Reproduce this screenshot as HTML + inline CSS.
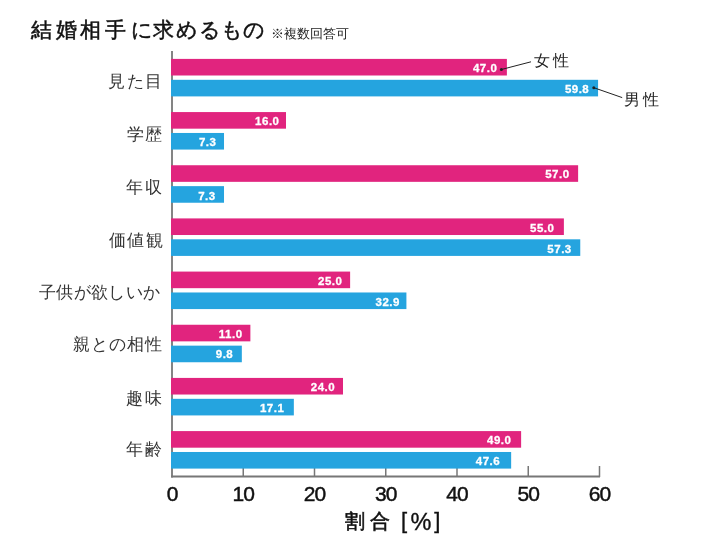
<!DOCTYPE html>
<html><head><meta charset="utf-8">
<style>
html,body{margin:0;padding:0;background:#fff;}
body{width:724px;height:553px;overflow:hidden;font-family:"Liberation Sans",sans-serif;}
svg{display:block;will-change:transform;}
text{font-family:"Liberation Sans",sans-serif;}
.v{fill:#fff;stroke:#fff;stroke-width:0.3px;font-size:11.5px;letter-spacing:0.5px;font-weight:bold;text-anchor:end;}
.c{fill:#333;font-size:16.5px;}
.t{fill:#111;stroke:#111;stroke-width:0.45px;font-size:21px;letter-spacing:-1px;text-anchor:middle;}
.l{fill:#222;font-size:16px;}
.ti{fill:#111;stroke:#111;stroke-width:0.5px;font-size:20.5px;}
.sub{fill:#222;font-size:13px;}
.xt{fill:#111;stroke:#111;stroke-width:0.6px;font-size:19.5px;}
.br{fill:#111;stroke:#111;stroke-width:0.35px;font-size:22px;}
</style></head><body>
<svg width="724" height="553" viewBox="0 0 724 553">
<line x1="172" y1="51" x2="172" y2="477.5" stroke="#777" stroke-width="1.8"/>
<line x1="243.25" y1="466" x2="243.25" y2="477" stroke="#777" stroke-width="1.5"/>
<line x1="314.50" y1="466" x2="314.50" y2="477" stroke="#777" stroke-width="1.5"/>
<line x1="385.75" y1="466" x2="385.75" y2="477" stroke="#777" stroke-width="1.5"/>
<line x1="457.00" y1="466" x2="457.00" y2="477" stroke="#777" stroke-width="1.5"/>
<line x1="528.25" y1="466" x2="528.25" y2="477" stroke="#777" stroke-width="1.5"/>
<line x1="599.50" y1="466" x2="599.50" y2="477" stroke="#777" stroke-width="1.5"/>
<rect x="171.00" y="58.90" width="335.88" height="16.6" fill="#E1247E"/>
<text class="v" x="497.32" y="72.24">47.0</text>
<rect x="171.00" y="79.80" width="427.07" height="16.6" fill="#25A4DF"/>
<text class="v" x="589.28" y="92.96">59.8</text>
<text class="c" x="108.30" y="87.00" style="letter-spacing:1.50px">見た目</text>
<rect x="171.00" y="112.07" width="115.00" height="16.6" fill="#E1247E"/>
<text class="v" x="279.50" y="125.21">16.0</text>
<rect x="171.00" y="132.97" width="53.01" height="16.6" fill="#25A4DF"/>
<text class="v" x="216.39" y="145.93">7.3</text>
<text class="c" x="127.20" y="140.42" style="letter-spacing:0.80px">学歴</text>
<rect x="171.00" y="165.24" width="407.12" height="16.6" fill="#E1247E"/>
<text class="v" x="569.56" y="178.17">57.0</text>
<rect x="171.00" y="186.14" width="53.01" height="16.6" fill="#25A4DF"/>
<text class="v" x="215.63" y="199.59">7.3</text>
<text class="c" x="126.40" y="193.39" style="letter-spacing:1.50px">年収</text>
<rect x="171.00" y="218.41" width="392.88" height="16.6" fill="#E1247E"/>
<text class="v" x="554.38" y="231.84">55.0</text>
<rect x="171.00" y="239.31" width="409.26" height="16.6" fill="#25A4DF"/>
<text class="v" x="571.76" y="252.56">57.3</text>
<text class="c" x="108.50" y="245.61" style="letter-spacing:1.80px">価値観</text>
<rect x="171.00" y="271.58" width="179.12" height="16.6" fill="#E1247E"/>
<text class="v" x="342.44" y="284.80">25.0</text>
<rect x="171.00" y="292.48" width="235.41" height="16.6" fill="#25A4DF"/>
<text class="v" x="399.91" y="305.52">32.9</text>
<text class="c" x="38.80" y="297.50" style="letter-spacing:0.40px">子供が欲しいか</text>
<rect x="171.00" y="324.75" width="79.38" height="16.6" fill="#E1247E"/>
<text class="v" x="242.57" y="337.77">11.0</text>
<rect x="171.00" y="345.65" width="70.83" height="16.6" fill="#25A4DF"/>
<text class="v" x="233.27" y="358.49">9.8</text>
<text class="c" x="73.00" y="349.80" style="letter-spacing:1.00px">親との相性</text>
<rect x="171.00" y="377.92" width="172.00" height="16.6" fill="#E1247E"/>
<text class="v" x="335.20" y="391.44">24.0</text>
<rect x="171.00" y="398.82" width="122.84" height="16.6" fill="#25A4DF"/>
<text class="v" x="284.34" y="412.16">17.1</text>
<text class="c" x="126.10" y="403.72" style="letter-spacing:1.70px">趣味</text>
<rect x="171.00" y="431.09" width="350.12" height="16.6" fill="#E1247E"/>
<text class="v" x="511.38" y="444.40">49.0</text>
<rect x="171.00" y="451.99" width="340.15" height="16.6" fill="#25A4DF"/>
<text class="v" x="500.23" y="465.12">47.6</text>
<text class="c" x="126.30" y="455.49" style="letter-spacing:2.20px">年齢</text>
<line x1="171.1" y1="476.5" x2="600" y2="476.5" stroke="#777" stroke-width="1.8"/>
<text class="t" x="172.00" y="501">0</text>
<text class="t" x="243.25" y="501">10</text>
<text class="t" x="314.50" y="501">20</text>
<text class="t" x="385.75" y="501">30</text>
<text class="t" x="457.00" y="501">40</text>
<text class="t" x="528.25" y="501">50</text>
<text class="t" x="599.50" y="501">60</text>
<circle cx="501.4" cy="69.5" r="1.5" fill="#222"/>
<line x1="501.4" y1="69.5" x2="531" y2="61.8" stroke="#222" stroke-width="1.0"/>
<text class="l" x="533.8 552.8" y="66.1">女性</text>
<circle cx="593.8" cy="87.7" r="1.5" fill="#222"/>
<line x1="593.8" y1="87.7" x2="622.2" y2="97.6" stroke="#222" stroke-width="1.0"/>
<text class="l" x="624 643.2" y="105.1">男性</text>
<text class="ti" x="30.60 55.60 80.20 104.90 131.20 153.30 176.40 199.40 220.60 242.70" y="36.60">結婚相手に求めるもの</text>
<text class="sub" x="271.20" y="37.50">※複数回答可</text>
<text class="xt" x="345.10" y="528.00">割</text>
<text class="xt" x="369.70" y="528.00">合</text>
<text class="br" x="401.00" y="528.00">[</text>
<text class="br" x="410.6" y="529.6" style="font-size:23.5px">%</text>
<text class="br" x="434.30" y="528.00">]</text>
</svg>
</body></html>
